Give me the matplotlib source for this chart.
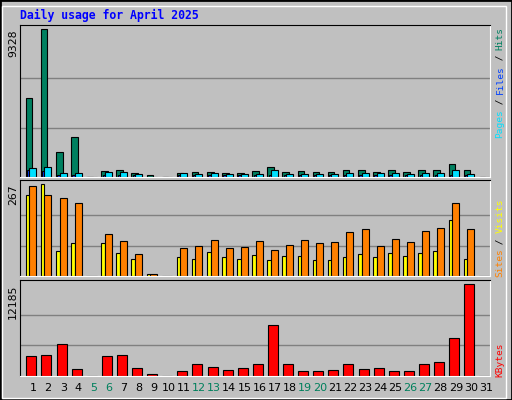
import matplotlib
matplotlib.use("Agg")
import matplotlib.pyplot as plt
import numpy as np

days = list(range(1, 32))
weekend = [5, 6, 12, 13, 19, 20, 26, 27]
hits = [4950, 9328, 1555, 2540, 0, 360, 400, 210, 100, 0, 210, 275, 275, 210, 210, 360, 615, 275, 360, 275, 275, 400, 400, 275, 400, 275, 400, 400, 780, 400, 0]
cyan_vals = [530, 615, 210, 210, 0, 275, 275, 150, 0, 0, 210, 150, 210, 150, 150, 150, 400, 150, 150, 150, 150, 210, 210, 210, 210, 150, 210, 210, 400, 150, 0]
blue_vals = [400, 360, 100, 100, 0, 100, 100, 100, 0, 0, 100, 100, 100, 100, 100, 100, 100, 100, 100, 100, 100, 100, 100, 100, 100, 100, 100, 100, 100, 100, 0]
visits = [235, 267, 73, 96, 0, 96, 67, 49, 7, 0, 55, 49, 70, 55, 49, 61, 46, 58, 58, 46, 46, 55, 64, 55, 67, 58, 67, 73, 162, 49, 0]
sites = [261, 235, 226, 212, 0, 122, 102, 64, 7, 0, 81, 87, 104, 81, 84, 102, 75, 90, 104, 96, 99, 128, 136, 87, 107, 99, 131, 139, 212, 136, 0]
kbytes = [2580, 2710, 4180, 845, 0, 2580, 2710, 980, 180, 0, 580, 1510, 1110, 710, 980, 1510, 6715, 1510, 580, 580, 710, 1510, 845, 980, 580, 580, 1510, 1780, 4980, 12185, 0]

W, H = 512, 400
fig = plt.figure(figsize=(W/100, H/100), dpi=100, facecolor="#C0C0C0")
mono = "DejaVu Sans Mono"

def px_axes(x0, y0, x1, y1):
    return fig.add_axes([x0/W, 1-y1/H, (x1-x0)/W, (y1-y0)/H])

fig.patches.append(plt.Rectangle((0, 0), 1, 1, transform=fig.transFigure, fill=False, ec="black", lw=2))
fig.patches.append(plt.Rectangle((2/W, 2/H), 1-8/W, 1-8/H, transform=fig.transFigure, fill=False, ec="white", lw=1))

x = np.array(days, dtype=float)
xlim = (1 - 13/15.1, 1 + (490-33)/15.1)
panels = [(24.7, 176.7, 9328, 29.3), (180.3, 276.3, 267, 184.3), (280.3, 375.7, 12185, 284.3)]
axs = []
for (t, b, vmax, ytop) in panels:
    ax = px_axes(20, t, 490, b)
    ax.set_facecolor("#C0C0C0")
    ymax = vmax * (b - t) / (b - ytop)
    ax.set_ylim(0, ymax)
    ax.set_xlim(*xlim)
    for k in (1, 2):
        ax.axhline(vmax * k / 3, color="#808080", lw=1, zorder=0)
    ax.set_xticks([]); ax.set_yticks([])
    for s in ("top", "left"):
        ax.spines[s].set_color("black")
    for s in ("bottom", "right"):
        ax.spines[s].set_color("white")
    axs.append(ax)
    fig.text(13/W, 1 - ytop/H, str(vmax), rotation=90, ha="center", va="top", fontsize=7.8, family="DejaVu Sans", color="black")

ekw = dict(edgecolor="black", linewidth=0.8, align="edge")
p = 1/15.1
axs[0].bar(x - 7.3*p, hits, width=6.6*p, color="#008060", **ekw)
axs[0].bar(x - 6*p, blue_vals, width=2.3*p, color="#0040FF", **ekw)
axs[0].bar(x - 3.7*p, cyan_vals, width=7*p, color="#00E0FF", **ekw)
axs[1].bar(x - 7.3*p, visits, width=3.6*p, color="#FFFF00", **ekw)
axs[1].bar(x - 3.7*p, sites, width=7*p, color="#FF8000", **ekw)
axs[2].bar(x - 6.7*p, kbytes, width=10*p, color="#FF0000", **ekw)

for d in days:
    xp = 33 + (d-1)*15.1
    fig.text(xp/W, 1 - 388/H, str(d), ha="center", va="center", fontsize=8,
             family="DejaVu Sans", color="#00805c" if d in weekend else "black")

fig.text(20/W, 1 - 15/H, "Daily usage for April 2025", ha="left", va="center",
         fontsize=8.3, family=mono, weight="bold", color="#0000FF")

def right_label(parts, ybottom):
    y = ybottom
    step = 5.5
    for txt, col in parts:
        fig.text(500/W, 1 - y/H, txt, rotation=90, ha="center", va="bottom",
                 fontsize=6.8, family=mono, color=col)
        y -= step * len(txt)

right_label([("Pages", "#00E0FF"), (" / ", "black"), ("Files", "#0040FF"), (" / ", "black"), ("Hits", "#008060")], 138)
right_label([("Sites", "#FF8000"), (" / ", "black"), ("Visits", "#FFFF00")], 277)
right_label([("KBytes", "#FF0000")], 377)

fig.savefig("out.png", dpi=100, facecolor=fig.get_facecolor())
